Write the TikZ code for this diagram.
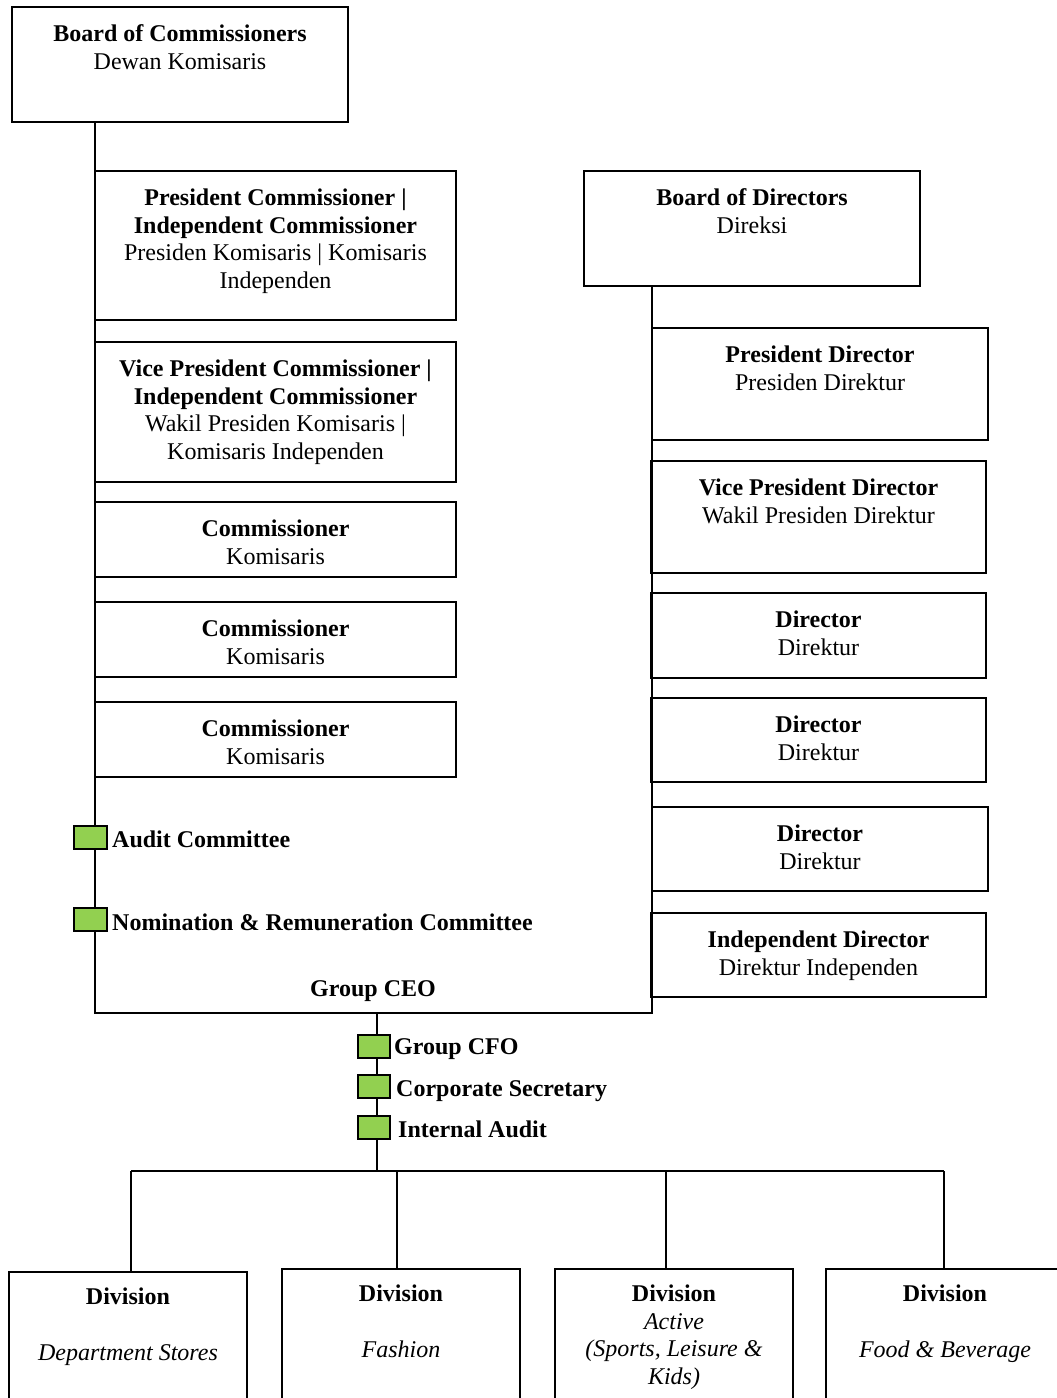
\documentclass[tikz,border=0pt]{standalone}
\usepackage{fontspec}
\setmainfont{Liberation Serif}
\definecolor{sqgreen}{HTML}{92D050}
\begin{document}
\begin{tikzpicture}[x=1pt,y=-1pt,
  box/.style={draw, line width=1.6pt, rectangle, inner sep=0pt, outer sep=0pt, anchor=north west},
  txt/.style={anchor=north, align=center, inner sep=0pt, font=\fontsize{24}{27.5}\selectfont},
  lbl/.style={anchor=base west, inner sep=0pt, font=\fontsize{24}{27.5}\selectfont\bfseries},
  conn/.style={line width=1.3pt},
  sq/.style={draw, line width=1.3pt, fill=sqgreen, minimum width=32pt, minimum height=23pt, inner sep=0pt, outer sep=0pt}
]
\clip (0,0) rectangle (1057,1398);
\useasboundingbox (0,0) rectangle (1057,1398);
\newcommand\firstln{\rule{0pt}{20pt}}
% ---- boxes ----
\node[box, minimum width=336pt, minimum height=115pt] (bc) at (12,7) {};
\node[box, minimum width=361pt, minimum height=149pt] (pc) at (95,171) {};
\node[box, minimum width=361pt, minimum height=140pt] (vpc) at (95,342) {};
\node[box, minimum width=361pt, minimum height=75pt] (c1) at (95,502) {};
\node[box, minimum width=361pt, minimum height=75pt] (c2) at (95,602) {};
\node[box, minimum width=361pt, minimum height=75pt] (c3) at (95,702) {};
\node[box, minimum width=336pt, minimum height=115pt] (bd) at (584,171) {};
\node[box, minimum width=336pt, minimum height=112pt] (pd) at (652,328) {};
\node[box, minimum width=335pt, minimum height=112pt] (vpd) at (651,461) {};
\node[box, minimum width=335pt, minimum height=85pt] (d1) at (651,593) {};
\node[box, minimum width=335pt, minimum height=84pt] (d2) at (651,698) {};
\node[box, minimum width=336pt, minimum height=84pt] (d3) at (652,807) {};
\node[box, minimum width=335pt, minimum height=84pt] (id) at (651,913) {};
\node[box, minimum width=238pt, minimum height=150pt] (dv1) at (9,1272) {};
\node[box, minimum width=238pt, minimum height=150pt] (dv2) at (282,1269) {};
\node[box, minimum width=238pt, minimum height=150pt] (dv3) at (555,1269) {};
\node[box, minimum width=238pt, minimum height=150pt] (dv4) at (826,1269) {};
% ---- box texts ----
\node[txt] (bct) at ([yshift=-14.5pt]bc.north) {\firstln\textbf{Board of Commissioners}\\Dewan Komisaris};
\node[txt] (pct) at ([yshift=-14.5pt]pc.north) {\firstln\textbf{President Commissioner |}\\\textbf{Independent Commissioner}\\Presiden Komisaris | Komisaris\\Independen};
\node[txt] (vpct) at ([yshift=-14.5pt]vpc.north) {\firstln\textbf{Vice President Commissioner |}\\\textbf{Independent Commissioner}\\Wakil Presiden Komisaris |\\Komisaris Independen};
\node[txt] (c1t) at ([yshift=-14.5pt]c1.north) {\firstln\textbf{Commissioner}\\Komisaris};
\node[txt] (c2t) at ([yshift=-14.5pt]c2.north) {\firstln\textbf{Commissioner}\\Komisaris};
\node[txt] (c3t) at ([yshift=-14.5pt]c3.north) {\firstln\textbf{Commissioner}\\Komisaris};
\node[txt] (bdt) at ([yshift=-14.5pt]bd.north) {\firstln\textbf{Board of Directors}\\Direksi};
\node[txt] (pdt) at ([yshift=-14.5pt]pd.north) {\firstln\textbf{President Director}\\Presiden Direktur};
\node[txt] (vpdt) at ([yshift=-14.5pt]vpd.north) {\firstln\textbf{Vice President Director}\\Wakil Presiden Direktur};
\node[txt] (d1t) at ([yshift=-14.5pt]d1.north) {\firstln\textbf{Director}\\Direktur};
\node[txt] (d2t) at ([yshift=-14.5pt]d2.north) {\firstln\textbf{Director}\\Direktur};
\node[txt] (d3t) at ([yshift=-14.5pt]d3.north) {\firstln\textbf{Director}\\Direktur};
\node[txt] (idt) at ([yshift=-14.5pt]id.north) {\firstln\textbf{Independent Director}\\Direktur Independen};
\node[txt] (dv1t) at ([yshift=-12.5pt]dv1.north) {\firstln\textbf{Division}\\[28.5pt]\textit{Department Stores}};
\node[txt] (dv2t) at ([yshift=-12.5pt]dv2.north) {\firstln\textbf{Division}\\[28.5pt]\textit{Fashion}};
\node[txt] (dv3t) at ([yshift=-12.5pt]dv3.north) {\firstln\textbf{Division}\\\textit{Active}\\\textit{(Sports, Leisure \&}\\\textit{Kids)}};
\node[txt] (dv4t) at ([yshift=-12.5pt]dv4.north) {\firstln\textbf{Division}\\[28.5pt]\textit{Food \& Beverage}};
% ---- connectors ----
\coordinate (ceoL) at (95,1013);
\coordinate (ceoR) at (652,1013);
\coordinate (ceoM) at (377,1013);
\coordinate (bus) at (377,1171);
\coordinate (b1) at (131,1171);
\coordinate (b2) at (397,1171);
\coordinate (b3) at (666,1171);
\coordinate (b4) at (944,1171);
\draw[conn] (bc.south -| ceoL) -- (ceoL) -- (ceoR) -- (bd.south -| ceoR);
\draw[conn] (ceoM) -- (bus);
\draw[conn] (b1) -- (b4);
\draw[conn] (b1) -- (b1 |- dv1.north);
\draw[conn] (b2) -- (b2 |- dv2.north);
\draw[conn] (b3) -- (b3 |- dv3.north);
\draw[conn] (b4) -- (b4 |- dv4.north);
\node[lbl, anchor=base] (ceo) at (373,996.5) {Group CEO};
% ---- committees ----
\node[sq, minimum width=33pt] (sqa) at (90.5,837.5) {};
\node[lbl] (ac) at (112,847.5) {Audit Committee};
\node[sq, minimum width=33pt] (sqn) at (90.5,919.5) {};
\node[lbl] (nrc) at (112,930.5) {Nomination \& Remuneration Committee};
\node[sq] (sqf) at (374,1046.5) {};
\node[lbl] (cfo) at (394,1054.5) {Group CFO};
\node[sq] (sqc) at (374,1086.5) {};
\node[lbl] (cs) at (396,1096.5) {Corporate Secretary};
\node[sq] (sqi) at (374,1127.5) {};
\node[lbl] (ia) at (398,1137.5) {Internal Audit};
\end{tikzpicture}
\end{document}
